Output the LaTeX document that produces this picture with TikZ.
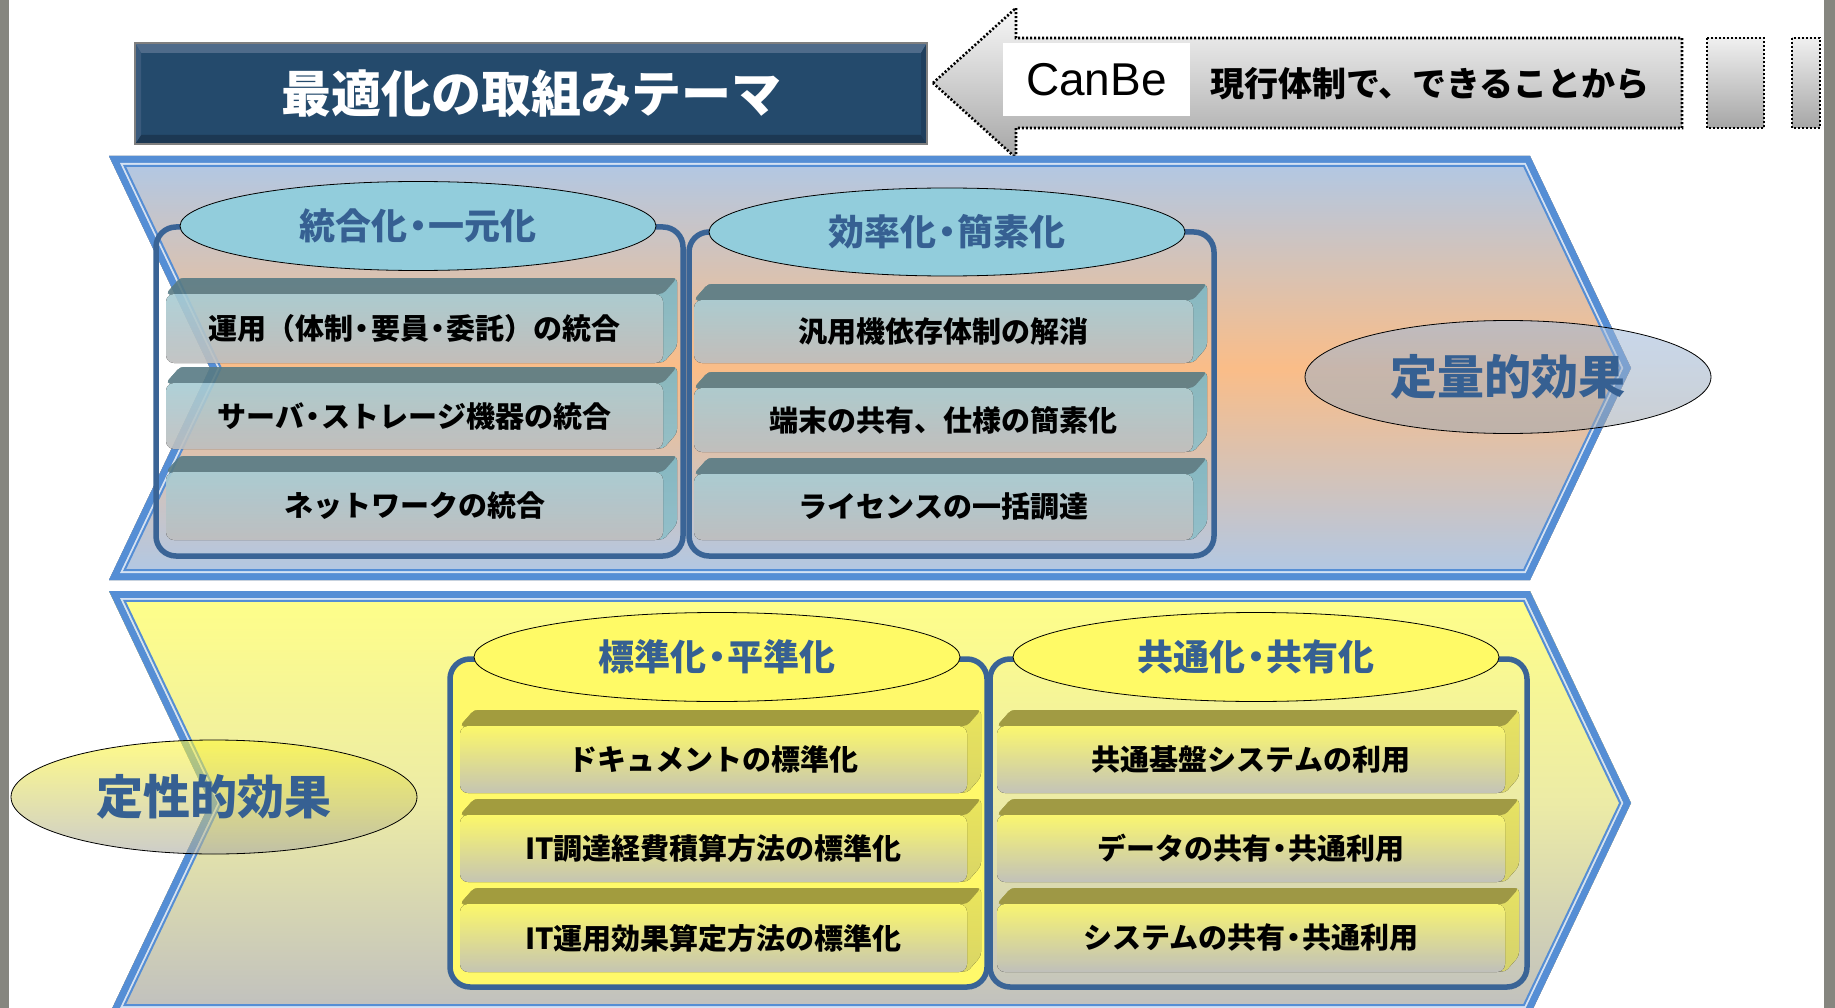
\documentclass[tikz,border=0pt]{standalone}
\usepackage{fontspec}
\setmainfont{Liberation Sans}
\newfontfamily\jp{Noto Sans CJK JP}
\usetikzlibrary{shapes.geometric}
\newcommand\fsz[1]{\fontsize{#1}{#1}\selectfont}
\newcommand\md{\makebox[0.6em][c]{・}}
\definecolor{stripgray}{HTML}{86867F}
\definecolor{arrA}{HTML}{F8F8F8}
\definecolor{arrB}{HTML}{A6A6A6}
\definecolor{titlefill}{HTML}{244A6C}
\definecolor{titletop}{HTML}{4F6B8A}
\definecolor{titlebot}{HTML}{1C3853}
\definecolor{titleleft}{HTML}{3A5A7C}
\definecolor{titleright}{HTML}{1F3F5E}
\definecolor{titleedge}{HTML}{7F7F7F}
\definecolor{bandA}{HTML}{AFC8E7}
\definecolor{bandB}{HTML}{FABD88}
\definecolor{ybandA}{HTML}{FFFF88}
\definecolor{ybandB}{HTML}{ECEBA6}
\definecolor{ybandC}{HTML}{BFBFBF}
\definecolor{bandblue}{HTML}{558ED5}
\definecolor{bandlight}{HTML}{D5E2F3}
\definecolor{grpblue}{HTML}{3A6496}
\definecolor{hdrtext}{HTML}{366092}
\definecolor{hdrteal}{HTML}{92CDDC}
\definecolor{hdryel}{HTML}{FFFA66}
\definecolor{grpyel}{HTML}{FFF96A}
\definecolor{ttop}{HTML}{587B84}
\definecolor{tsA}{HTML}{7DB7C3}
\definecolor{tsB}{HTML}{8FBFC9}
\definecolor{tfA}{HTML}{A7CCD4}
\definecolor{tfB}{HTML}{BEBEBE}
\definecolor{ytop}{HTML}{98923A}
\definecolor{ysA}{HTML}{E8E35A}
\definecolor{ysB}{HTML}{D6D266}
\definecolor{yfA}{HTML}{FCF86A}
\definecolor{yfB}{HTML}{BFBFBB}
\definecolor{effbA}{HTML}{9CB9DE}
\definecolor{effbB}{HTML}{A2A8AE}
\definecolor{effyA}{HTML}{FFF835}
\definecolor{effyB}{HTML}{AAAAA4}
% chevron band outline, #1 = top y, #2 = inset
\newcommand\chev[2]{(109+1.584*#2,#1+#2) -- (1530-0.632*#2,#1+#2) -- (1631-1.108*#2,#1+212) -- (1530-0.632*#2,#1+424-#2) -- (109+1.584*#2,#1+424-#2) -- (210+1.108*#2,#1+212) -- cycle}
% 3D bar: L R T B kind text name
\newcommand\mybar[7]{%
  \begin{scope}[transparency group, opacity=0.9]
    \fill[#5side, rounded corners=4pt] (#1,#3+16) -- (#1+14,#3) -- (#2,#3) -- (#2,#4-16) -- (#2-14,#4) -- cycle;
    \fill[#5top, rounded corners=4pt] (#1,#3+16) -- (#1+14,#3) -- (#2,#3) -- (#2-14,#3+16) -- cycle;
    \fill[#5front, rounded corners=8pt] (#1,#3+16) rectangle (#2-14,#4);
  \end{scope}
  \node[bartext] (#7) at ({(#1+#2-14)/2},{(#3+16+#4)/2}) {#6};
}
\begin{document}
\begin{tikzpicture}[x=1pt,y=-1pt,
  dotline/.style={draw=black, line width=2.6pt, dash pattern=on 2pt off 2pt},
  grpbox/.style={draw=grpblue, line width=5.5pt, rounded corners=20pt},
  hdrell/.style={ellipse, draw=black, line width=0.8pt, inner sep=0pt, minimum height=89pt, text=hdrtext, font=\jp\bfseries\fsz{36}},
  tealhdr/.style={hdrell, fill=hdrteal},
  yelhdr/.style={hdrell, fill=hdryel},
  effell/.style={ellipse, draw=black, line width=0.8pt, inner sep=0pt, minimum width=406pt, minimum height=113pt, text=hdrtext, font=\jp\bfseries\fsz{47}, fill opacity=0.58, text opacity=1},
  bartext/.style={font=\jp\bfseries\fsz{29}, text=black, inner sep=0pt},
  tealside/.style={top color=tsA, bottom color=tsB},
  tealtop/.style={fill=ttop},
  tealfront/.style={top color=tfA, bottom color=tfB},
  yelside/.style={top color=ysA, bottom color=ysB},
  yeltop/.style={fill=ytop},
  yelfront/.style={top color=yfA, bottom color=yfB}]
\useasboundingbox (0,0) rectangle (1835,1008);
\fill[white] (0,0) rectangle (1835,1008);

% ---- CanBe arrow ----
\path[dotline, top color=arrA, bottom color=arrB] (933,83) -- (1016,8) -- (1016,38) -- (1682,38) -- (1682,128) -- (1016,128) -- (1016,158) -- cycle;
\path[dotline, top color=arrA!90!arrB, bottom color=arrB] (1707,38) rectangle (1764,128);
\path[dotline, top color=arrA!90!arrB, bottom color=arrB] (1792,38) rectangle (1820,128);
\node[fill=white, minimum width=187pt, minimum height=73pt, inner sep=0pt, font=\fsz{46}] (canbe) at (1096.5,79.5) {CanBe};
\node[font=\jp\bfseries\fsz{34}, inner sep=0pt] (current) at (1430,84) {現行体制で、できることから};

% ---- title ----
\fill[titlefill] (135,43) rectangle (927,144);
\fill[titletop] (135,43) -- (927,43) -- (921,53) -- (141,53) -- cycle;
\fill[titlebot] (135,144) -- (927,144) -- (921,135) -- (141,135) -- cycle;
\fill[titleleft] (135,43) -- (141,53) -- (141,135) -- (135,144) -- cycle;
\fill[titleright] (927,43) -- (921,53) -- (921,135) -- (927,144) -- cycle;
\draw[titleedge, line width=1.5pt] (135,43) rectangle (927,144);
\node[font=\jp\bfseries\fsz{50}, text=white, inner sep=0pt] (title) at (531,94) {最適化の取組みテーマ};

% ---- upper band ----
\fill[top color=bandA, bottom color=bandA, middle color=bandB] \chev{156}{0};
\draw[bandblue, line width=7pt] \chev{156}{3.5};
\draw[bandlight, line width=1.8pt] \chev{156}{7.9};
\draw[bandblue, line width=2pt] \chev{156}{9.8};

\draw[grpbox] (156,227) rectangle (683,556);
\draw[grpbox] (689,232) rectangle (1214,556);
\node[tealhdr, minimum width=476pt] (h1) at (418,226) {統合化\md 一元化};
\node[tealhdr, minimum width=476pt, minimum height=88pt] (h2) at (947,232) {効率化\md 簡素化};

\mybar{166}{677}{278}{363}{teal}{運用（体制\md 要員\md 委託）の統合}{b11}
\mybar{166}{677}{367}{449}{teal}{サーバ\md ストレージ機器の統合}{b12}
\mybar{166}{677}{456}{540}{teal}{ネットワークの統合}{b13}
\mybar{694}{1207}{284}{363}{teal}{汎用機依存体制の解消}{b21}
\mybar{694}{1207}{372}{452}{teal}{端末の共有、仕様の簡素化}{b22}
\mybar{694}{1207}{458}{540}{teal}{ライセンスの一括調達}{b23}

\node[effell, top color=effbA, bottom color=effbB, fill opacity=0.55] (quant) at (1508,377) {定量的効果};

% ---- lower band ----
\fill[top color=ybandA, bottom color=ybandC, middle color=ybandB] \chev{591}{0};
\draw[bandblue, line width=7pt] \chev{591}{3.5};
\draw[bandlight, line width=1.8pt] \chev{591}{7.9};
\draw[bandblue, line width=2pt] \chev{591}{9.8};

\node[effell, top color=effyA, bottom color=effyB, minimum height=114pt] (qual) at (214,797) {定性的効果};

\draw[grpbox, fill=grpyel] (450,659) rectangle (987,987);
\draw[grpbox] (990,659) rectangle (1527,987);
\node[yelhdr, minimum width=486pt] (h3) at (717,657) {標準化\md 平準化};
\node[yelhdr, minimum width=486pt] (h4) at (1256,657) {共通化\md 共有化};

\mybar{460}{981}{710}{793}{yel}{ドキュメントの標準化}{b31}
\mybar{460}{981}{799}{882}{yel}{IT調達経費積算方法の標準化}{b32}
\mybar{460}{981}{888}{972}{yel}{IT運用効果算定方法の標準化}{b33}
\mybar{997}{1519}{710}{793}{yel}{共通基盤システムの利用}{b41}
\mybar{997}{1519}{799}{882}{yel}{データの共有\md 共通利用}{b42}
\mybar{997}{1519}{888}{972}{yel}{システムの共有\md 共通利用}{b43}

% ---- side strips ----
\fill[stripgray] (0,0) rectangle (9,1008);
\fill[stripgray] (1824,0) rectangle (1835,1008);
\end{tikzpicture}
\end{document}
